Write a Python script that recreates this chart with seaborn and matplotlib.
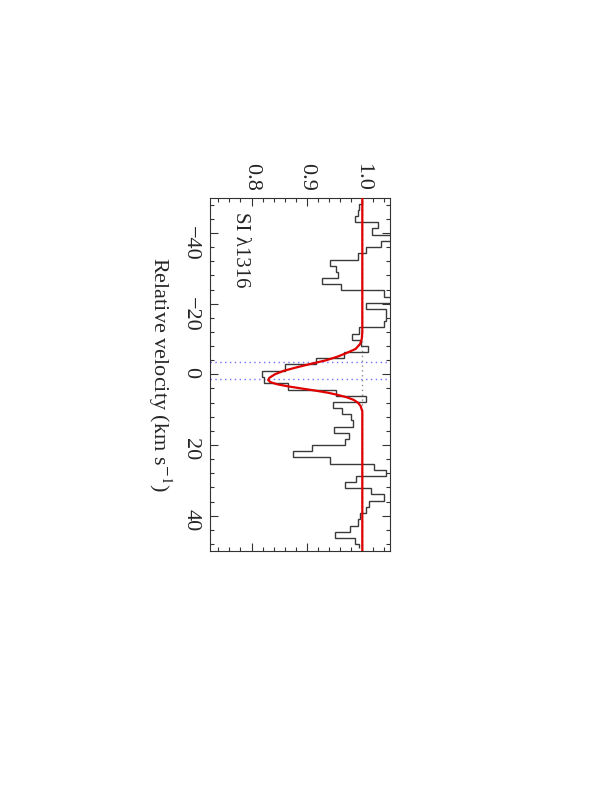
import numpy as np
import matplotlib
matplotlib.use("Agg")
import matplotlib.pyplot as plt
import seaborn as sns
from matplotlib.ticker import MultipleLocator

# step edges of the binned spectrum (km/s)
vel_edges = [-49.2, -48.3, -46.5, -44.8, -43.0, -41.3, -39.5, -37.8, -36.0,
             -34.3, -32.5, -30.8, -29.0, -27.3, -25.5, -23.8, -22.0, -20.3,
             -18.5, -16.8, -15.0, -13.3, -11.5, -9.8, -8.0, -6.3, -4.5,
             -2.8, -1.0, 0.8, 2.5, 4.3, 6.0, 7.8, 9.5, 11.3, 13.0, 14.8,
             16.5, 18.3, 20.0, 21.8, 23.5, 25.3, 27.0, 28.8, 30.5, 32.3,
             34.0, 35.8, 37.5, 39.3, 41.0, 42.8, 44.6, 46.3, 48.1, 49.3]

# normalised flux in each bin
flux = [1.000, 0.994, 0.992, 0.987, 1.028, 1.018, 1.055, 1.034, 1.007,
        0.992, 0.941, 0.952, 0.956, 0.928, 0.962, 1.040, 1.052, 1.007,
        1.042, 1.043, 1.040, 0.994, 0.981, 0.997, 1.010, 0.967, 0.917,
        0.860, 0.818, 0.822, 0.866, 0.953, 1.006, 0.947, 0.964, 0.980,
        0.983, 0.949, 0.976, 0.968, 0.910, 0.875, 0.941, 1.022, 1.043,
        0.989, 0.968, 1.015, 1.040, 1.012, 1.007, 0.996, 0.992, 0.977,
        0.950, 0.986, 0.994]

# fitted profile (red curve)
model_vel = [-50.0, -12.0, -10.0, -8.6, -7.2, -6.0, -5.0, -4.0, -3.0, -2.0,
             -1.0, 0.0, 1.0, 1.6, 2.2, 2.8, 3.4, 4.0, 4.6, 5.2, 5.8, 6.5,
             7.2, 8.0, 9.0, 10.5, 50.0]
model_flux = [1.000, 1.000, 0.999, 0.996, 0.988, 0.971, 0.955, 0.935, 0.908,
              0.882, 0.858, 0.842, 0.832, 0.830, 0.834, 0.846, 0.866, 0.890,
              0.915, 0.938, 0.955, 0.972, 0.984, 0.992, 0.997, 1.000, 1.000]

# component velocities (blue dotted)
comp_vel = [-3.5, 1.2]

line_label = "SI λ1316"
vel_ticks = [-40, -20, 0, 20, 40]
flux_ticks = [0.8, 0.9, 1.0]

sns.set_style("ticks")
plt.rcParams['font.family'] = ['Liberation Serif', 'DejaVu Serif']
plt.rcParams['mathtext.fontset'] = 'stix'

fig = plt.figure(figsize=(6, 7.89), dpi=100)
ax = fig.add_axes([0.35, 0.3017, 0.30, 0.4477])

ax.axvline(1.0, color='0.55', lw=1, ls=(0, (1, 2.5)), zorder=1)
for v in comp_vel:
    ax.axhline(v, color='#6f6fff', lw=1, ls=(0, (1, 2.5)), zorder=1)

ax.stairs(flux, vel_edges, orientation='horizontal', baseline=None,
          color='#3a3a3a', lw=1.0, zorder=2)
sns.lineplot(x=model_flux, y=model_vel, orient='y', estimator=None,
             color='#e00000', lw=1.6, ax=ax, zorder=3)

ax.set_xlim(0.725, 1.05)
ax.set_ylim(50, -50)

ax.set_xticks(flux_ticks)
ax.set_xticklabels([f"{t:.1f}" for t in flux_ticks], rotation=-90)
ax.set_yticks(vel_ticks)
ax.set_yticklabels([f"{t}".replace('-', '\u2212') for t in vel_ticks], rotation=-90)
ax.xaxis.set_minor_locator(MultipleLocator(0.02))
ax.yaxis.set_minor_locator(MultipleLocator(4))

ax.tick_params(which='both', direction='in', top=True, bottom=True,
               left=True, right=True, width=0.8, color='#333333')
ax.tick_params(which='major', length=6)
ax.tick_params(which='minor', length=3)
ax.tick_params(axis='x', labeltop=True, labelbottom=False, labelsize=16, pad=5)
ax.tick_params(axis='y', labelsize=16, pad=7)

for s in ax.spines.values():
    s.set_linewidth(0.8)
    s.set_color('#333333')

ax.set_xlabel('')
ax.set_ylabel('')
ax.text(-0.278, 0.5, "Relative velocity (km s$^{-1}$)", transform=ax.transAxes,
        rotation=-90, ha='center', va='center', fontsize=16)
ax.text(0.78, -45.9, line_label, rotation=-90, ha='center', va='top',
        fontsize=15)

fig.savefig("out.png", dpi=100)
